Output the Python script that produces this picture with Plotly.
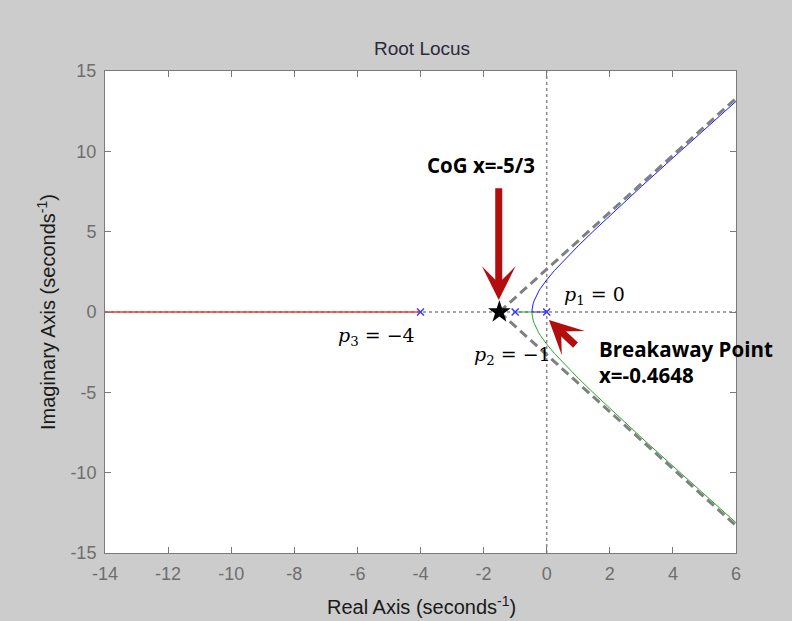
import plotly.graph_objects as go

# ---------------- data ----------------
x_ticks = [-14, -12, -10, -8, -6, -4, -2, 0, 2, 4, 6]
y_ticks = [-15, -10, -5, 0, 5, 10, 15]
x_range = [-14, 6]
y_range = [-15, 15]

poles_x = [0, -1, -4]
poles_y = [0, 0, 0]

cog_x = [-1.5]
cog_y = [0]

# branch from p1 = 0 (blue): real axis to breakaway, then upper half-plane
blue_x = [0, -0.4648, -0.46, -0.45, -0.43, -0.40, -0.35, -0.30, -0.25, -0.20, -0.10,
          0.00, 0.25, 0.50, 1.00, 1.50, 2.00, 3.00, 4.00, 5.00, 6.00]
blue_y = [0, 0, 0.19, 0.33, 0.51, 0.69, 0.93, 1.13, 1.30, 1.46, 1.74,
          2.00, 2.59, 3.12, 4.12, 5.07, 6.00, 7.81, 9.59, 11.36, 13.11]

# branch from p2 = -1 (green): real axis to breakaway, then lower half-plane
green_x = [-1, -0.4648, -0.46, -0.45, -0.43, -0.40, -0.35, -0.30, -0.25, -0.20, -0.10,
           0.00, 0.25, 0.50, 1.00, 1.50, 2.00, 3.00, 4.00, 5.00, 6.00]
green_y = [0, 0, -0.19, -0.33, -0.51, -0.69, -0.93, -1.13, -1.30, -1.46, -1.74,
           -2.00, -2.59, -3.12, -4.12, -5.07, -6.00, -7.81, -9.59, -11.36, -13.11]

# branch from p3 = -4 (red): along the negative real axis
red_x = [-4, -14]
red_y = [0, 0]

# asymptotes
asym_up_x = [-1.5, 6]
asym_up_y = [0, 13.3]
asym_dn_x = [-1.5, 6]
asym_dn_y = [0, -13.3]

# ---------------- styles ----------------
AX = "#7a7a7a"
TICKC = "#6e6e6e"
ARROW = "#b30d0d"

fig = go.Figure()

fig.add_trace(go.Scatter(x=red_x, y=red_y, mode="lines",
                         line=dict(color="rgb(235,60,60)", width=1.3), showlegend=False))
fig.add_trace(go.Scatter(x=asym_up_x, y=asym_up_y, mode="lines",
                         line=dict(color="#808080", width=3, dash="9px,5px"), showlegend=False))
fig.add_trace(go.Scatter(x=asym_dn_x, y=asym_dn_y, mode="lines",
                         line=dict(color="#808080", width=3, dash="9px,5px"), showlegend=False))
fig.add_trace(go.Scatter(x=blue_x, y=blue_y, mode="lines",
                         line=dict(color="#1a1aff", width=1), showlegend=False))
fig.add_trace(go.Scatter(x=green_x, y=green_y, mode="lines",
                         line=dict(color="rgb(40,165,40)", width=1), showlegend=False))
fig.add_trace(go.Scatter(x=poles_x, y=poles_y, mode="markers",
                         marker=dict(symbol="x-thin", size=7, line=dict(color="#3a3aff", width=1.5)),
                         showlegend=False))
fig.add_trace(go.Scatter(x=cog_x, y=cog_y, mode="markers",
                         marker=dict(symbol="star", size=17, color="black"),
                         showlegend=False))

# dotted grid lines through the origin
fig.add_shape(type="line", xref="x", yref="paper", x0=0, x1=0, y0=0, y1=1,
              line=dict(color="#888888", width=1.5, dash="3px,3px"), layer="below")
fig.add_shape(type="line", xref="paper", yref="y", x0=0, x1=1, y0=0, y1=0,
              line=dict(color="#888888", width=1.5, dash="3px,3px"), layer="below")

axis_common = dict(showgrid=False, zeroline=False, showline=True, linecolor=AX, linewidth=1,
                   mirror="ticks", ticks="inside", ticklen=6, tickcolor=AX,
                   tickfont=dict(family="Liberation Sans, Arial", size=18, color=TICKC))

fig.update_xaxes(range=x_range, tickvals=x_ticks, ticktext=[str(v) for v in x_ticks],
                 ticklabelstandoff=4, **axis_common)
fig.update_yaxes(range=y_range, tickvals=y_ticks, ticktext=[str(v) for v in y_ticks],
                 ticklabelstandoff=4, **axis_common)

annotations = []
# titles
annotations.append(dict(text="Root Locus", xref="paper", yref="paper",
                        x=0.502, y=(621 - 49 - 68) / 482, yanchor="middle", showarrow=False,
                        font=dict(family="Liberation Sans, Arial", size=19, color="#2b2b3b")))
annotations.append(dict(text="Real Axis (seconds<sup>-1</sup>)", xref="paper", yref="paper",
                        x=0.502, y=-(605 - 553) / 482, yanchor="middle", showarrow=False,
                        font=dict(family="Liberation Sans, Arial", size=20, color="#1a1a1a")))
annotations.append(dict(text="Imaginary Axis (seconds<sup>-1</sup>)", xref="paper", yref="paper",
                        x=-(105 - 46) / 631, y=0.5, xanchor="center", yanchor="middle",
                        textangle=-90, showarrow=False,
                        font=dict(family="Liberation Sans, Arial", size=20, color="#1a1a1a")))

# arrows
annotations.append(dict(x=-1.52, y=0.75, ax=-1.52, ay=7.8, xref="x", yref="y", axref="x", ayref="y",
                        showarrow=True, arrowhead=3, arrowsize=0.8, arrowwidth=7,
                        arrowcolor=ARROW, text=""))
annotations.append(dict(x=0.07, y=-0.5, ax=0.96, ay=-2.15, xref="x", yref="y", axref="x", ayref="y",
                        showarrow=True, arrowhead=3, arrowsize=0.8, arrowwidth=7,
                        arrowcolor=ARROW, text=""))

# text labels
bold_font = dict(family="Open Sans, Noto Sans", size=20.5, color="black")
annotations.append(dict(text="<b>CoG x=-5/3</b>", x=-2.07, y=9.12, xref="x", yref="y",
                        yanchor="middle", showarrow=False, font=bold_font))
annotations.append(dict(text="<b>Breakaway Point</b>", x=1.6, y=-2.28, xref="x", yref="y",
                        xanchor="left", yanchor="middle", showarrow=False, font=bold_font))
annotations.append(dict(text="<b>x=-0.4648</b>", x=1.6, y=-3.9, xref="x", yref="y",
                        xanchor="left", yanchor="middle", showarrow=False, font=bold_font))

serif = dict(family="DejaVu Serif", size=19, color="black")
annotations.append(dict(text="<i>p</i><sub>1</sub> = 0", x=1.5, y=1.0, xref="x", yref="y",
                        yanchor="middle", showarrow=False, font=serif))
annotations.append(dict(text="<i>p</i><sub>2</sub> = \u22121", x=-1.07, y=-2.7, xref="x", yref="y",
                        yanchor="middle", showarrow=False, font=serif))
annotations.append(dict(text="<i>p</i><sub>3</sub> = \u22124", x=-5.4, y=-1.5, xref="x", yref="y",
                        yanchor="middle", showarrow=False, font=serif))

fig.update_layout(
    width=792, height=621,
    margin=dict(l=105, r=56, t=71, b=68),
    paper_bgcolor="#cccccc", plot_bgcolor="white",
    showlegend=False,
    annotations=annotations,
)

fig.write_html("out.html")
